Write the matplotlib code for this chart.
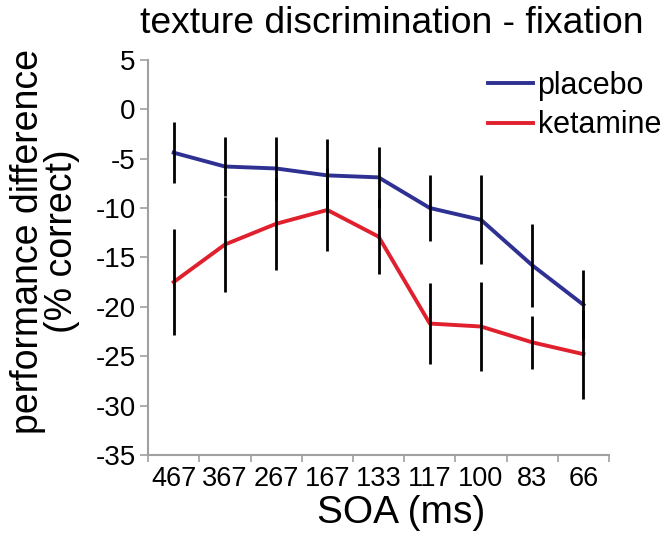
import numpy as np
import matplotlib
matplotlib.use("Agg")
import matplotlib.pyplot as plt

plt.rcParams['font.family'] = ['Liberation Sans', 'DejaVu Sans']
plt.rcParams['axes.unicode_minus'] = False

soa = ['467', '367', '267', '167', '133', '117', '100', '83', '66']
placebo = [-4.4, -5.8, -6.0, -6.7, -6.9, -10.0, -11.2, -15.8, -19.8]
placebo_err = [3.1, 3.0, 3.2, 3.7, 3.1, 3.3, 4.5, 4.2, 3.5]
ketamine = [-17.5, -13.7, -11.6, -10.2, -12.9, -21.7, -22.0, -23.6, -24.8]
ketamine_err = [5.4, 4.8, 4.7, 4.2, 3.8, 4.1, 4.5, 2.7, 4.5]

fig = plt.figure(figsize=(6.7, 5.39), dpi=100)
ax = fig.add_axes([0.221, 0.156, 0.688, 0.733])
x = np.arange(len(soa))

ax.plot(x, placebo, color='#2e3192', lw=2.8, label='placebo', zorder=3)
ax.plot(x, ketamine, color='#e1202e', lw=2.8, label='ketamine', zorder=3)
ax.errorbar(x, placebo, yerr=placebo_err, fmt='none', ecolor='black', elinewidth=2.0, capsize=0, zorder=4)
ax.errorbar(x, ketamine, yerr=ketamine_err, fmt='none', ecolor='black', elinewidth=2.0, capsize=0, zorder=4)

ax.set_xlim(-0.5, len(soa) - 0.5)
ax.set_ylim(-35, 5)
ax.set_yticks(np.arange(-35, 6, 5))
ax.set_xticks(x)
ax.set_xticklabels(soa)
ax.set_xticks(np.arange(-0.5, len(soa), 1), minor=True)
ax.tick_params(axis='x', which='major', length=0, labelsize=19.5, pad=8)
ax.tick_params(axis='x', which='minor', length=5, color='#a0a0a0', width=1.2)
ax.tick_params(axis='y', length=6, color='#a0a0a0', width=1.2, labelsize=20, pad=3)

for s in ['top', 'right']:
    ax.spines[s].set_visible(False)
for s in ['left', 'bottom']:
    ax.spines[s].set_color('#a0a0a0')
    ax.spines[s].set_linewidth(1.5)

fig.text(0.585, 0.939, 'texture discrimination - fixation', fontsize=26.8,
         ha='center', va='baseline')
fig.text(0.599, 0.030, 'SOA (ms)', fontsize=28, ha='center', va='baseline')
ax.set_ylabel('performance difference\n(% correct)', fontsize=27, linespacing=0.93)
ax.yaxis.set_label_coords(-0.148, 0.54)

ax.legend(loc='upper left', frameon=False, fontsize=22, handlelength=1.47,
          handletextpad=0.15, labelspacing=0.31, borderaxespad=0, borderpad=0,
          bbox_to_anchor=(488 / 670, 1 - 71 / 539), bbox_transform=fig.transFigure)

fig.savefig('out.png', dpi=100)
